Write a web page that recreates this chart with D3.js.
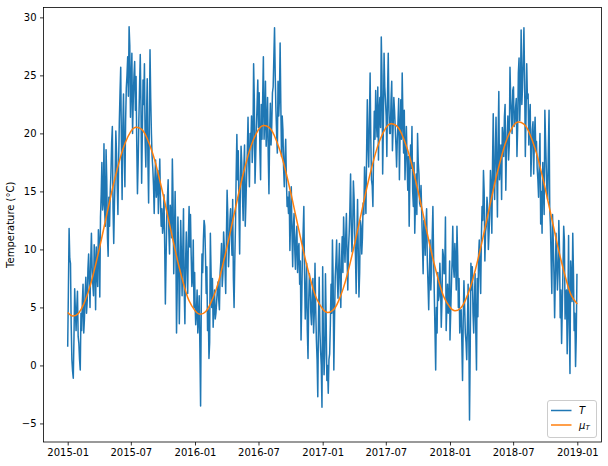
<!DOCTYPE html>
<html>
<head>
<meta charset="utf-8">
<script src="https://cdn.jsdelivr.net/npm/d3@7"></script>
<style>
  html, body { margin: 0; padding: 0; background: #fff; }
  svg { display: block; font-family: "DejaVu Sans", sans-serif; }
</style>
</head>
<body>
<svg id="chart" width="608" height="466"></svg>
<script>
// ---- Data ----
const years = [2015, 2016, 2017, 2018];
const stepDays = 4; // each array samples every 4 days of its year

// Observed T on days 0,4,8,... of each year
const t2015 = [1.6, 11.8, 8.8, 0.5, -1.1, 6.6, 3.0, 6.4,
  1.9, -0.4, 3.0, 7.0, 4.0, 7.6, 5.6,
  9.6, 5.0, 11.4, 7.0, 10.4, 4.8, 8.0, 11.7,
  5.9, 14.7, 13.4, 19.1, 12.0, 16.0, 9.4,
  12.0, 16.6, 20.6, 10.5, 16.3, 18.3, 13.0, 21.0,
  25.7, 14.3, 23.4, 15.4, 23.9, 26.6, 29.2, 21.4,
  26.9, 22.9, 26.2, 24.9, 14.8, 21.1, 26.8,
  15.7, 24.6, 26.0, 17.1, 24.7, 14.0, 27.2, 20.0,
  17.0, 13.1, 17.7, 15.0, 13.1, 17.8, 12.0,
  11.4, 14.7, 5.3, 12.8, 16.0, 9.6, 13.0, 17.8,
  7.9, 15.0, 2.8, 12.8, 3.6, 12.5, 6.0, 13.5,
  3.6, 11.5, 6.2, 13.7, 13.0, 6.8, 10.8, 8.0];
const t2016 = [5.6, 4.5, 2.8, 6.0, -3.5, 9.6, 10.8, 12.0,
  6.2, 3.0, 0.6, 11.4, 5.0, 3.3, 6.5,
  4.5, 6.5, 5.6, 8.0, 10.5, 7.9, 10.2, 6.2,
  15.1, 8.5, 12.5, 11.4, 14.3, 5.0, 12.0,
  19.9, 18.5, 9.6, 18.9, 14.8, 17.0, 12.0, 16.5,
  21.4, 15.4, 19.0, 17.5, 26.0, 15.7, 20.6, 24.6,
  23.5, 16.0, 19.5, 26.6, 21.0, 18.9, 23.1,
  14.8, 22.6, 20.6, 24.0, 29.1, 22.0, 18.3, 21.5,
  27.8, 18.0, 20.3, 15.4, 19.5, 13.7, 13.1,
  9.9, 15.4, 8.5, 13.1, 8.3, 12.0, 10.0, 7.0,
  2.2, 9.6, 13.7, 4.0, 8.8, 0.6, 7.9, 4.5,
  6.0, 2.8, 8.8, 2.2, -2.7, 7.6, 1.3, -3.6];
const t2017 = [8.5, -0.8, 7.9, -1.3, -2.4, 1.0, 7.0, 10.8,
  -0.4, 7.6, 10.8, 5.8, 10.5, 5.0, 11.1,
  12.8, 8.9, 13.1, 6.5, 11.4, 16.5, 9.8, 15.9,
  11.4, 6.2, 14.3, 5.9, 12.5, 9.6, 14.0,
  17.1, 13.1, 22.9, 17.1, 25.2, 16.0, 13.7, 21.9,
  23.7, 19.7, 17.7, 23.1, 28.3, 16.5, 26.9, 22.9,
  18.0, 26.9, 20.0, 22.9, 18.5, 23.1, 20.5,
  17.1, 21.0, 16.0, 22.9, 25.2, 18.3, 16.0, 20.6,
  15.1, 12.0, 19.0, 20.6, 13.7, 11.4, 16.5,
  20.0, 16.5, 13.7, 13.1, 7.9, 11.4, 12.0, 9.0,
  4.8, 10.8, 8.0, 13.7, 6.2, -0.4, 2.8, 5.6,
  8.8, 3.3, 10.0, 7.9, 12.8, 5.0, 4.5, 9.0];
const t2018 = [2.2, 6.8, 12.0, 7.6, 9.0, 12.0, 5.0, 2.8,
  4.8, -1.3, 7.3, 2.8, 0.5, 7.0, -4.7,
  8.8, 8.5, 2.8, 7.9, -0.4, 4.2, 10.8, 6.2,
  13.7, 16.8, 9.0, 12.0, 13.7, 11.4, 16.8,
  11.4, 21.7, 14.3, 21.4, 12.8, 23.6, 17.5, 14.3,
  19.5, 21.4, 15.1, 20.0, 17.7, 25.7, 21.7, 23.7,
  20.6, 22.2, 18.0, 25.2, 21.1, 28.9, 24.0,
  29.1, 18.0, 26.0, 23.4, 21.4, 16.3, 20.3, 16.5,
  21.4, 19.3, 16.0, 17.7, 12.2, 11.4, 15.4,
  22.0, 17.1, 14.3, 22.0, 12.0, 6.2, 10.8, 4.1,
  11.4, 6.5, 12.5, 4.1, 1.9, 8.5, 10.8, 6.2,
  1.0, 11.2, -0.7, 7.3, 11.4, 3.0, -0.1, 7.9];

// Observed T on days 2,6,10,... of each year
const u2015 = [6.5, 9.2, 3.5, -0.5, 2.4, 4.8, 5.0, 2.5,
  0.5, 4.5, 5.5, 2.8, 6.2, 4.5, 8.3,
  7.2, 9.0, 8.5, 6.0, 8.8, 10.2, 6.8,
  10.5, 12.8, 17.5, 14.0, 13.2, 18.6, 11.0, 14.5,
  15.0, 19.2, 13.5, 14.0, 20.2, 15.5, 17.4, 23.5,
  19.0, 20.5, 18.8, 21.0, 25.0, 23.2, 27.6,
  24.5, 20.0, 25.0, 22.0, 19.0, 17.5, 24.0, 22.5,
  20.0, 22.5, 19.4, 21.5, 17.5, 20.8, 23.0, 18.0,
  15.5, 16.2, 14.5, 16.8, 15.8, 14.2, 13.5,
  12.2, 10.5, 9.0, 14.5, 11.5, 13.8, 11.0, 14.5,
  11.0, 10.5, 6.5, 9.8, 7.5, 9.5, 10.0,
  6.5, 9.0, 8.5, 11.0, 10.2, 9.5, 7.5, 5.0];
const u2016 = [3.5, 6.5, 4.0, 1.5, 5.5, 8.0, 12.5, 9.5,
  8.5, 4.8, 2.0, 8.0, 7.5, 5.0, 4.0,
  5.5, 7.2, 4.8, 9.0, 6.8, 11.5, 8.5,
  11.0, 13.0, 10.0, 13.5, 9.5, 7.5, 9.0, 16.5,
  16.0, 13.5, 15.5, 17.5, 12.5, 19.0, 14.0, 18.5,
  17.5, 20.0, 21.5, 19.0, 23.0, 18.0, 22.5,
  20.5, 18.5, 22.5, 23.0, 19.5, 24.5, 20.5, 18.0,
  20.0, 19.0, 23.5, 26.5, 25.0, 20.0, 24.5, 23.0,
  22.5, 21.5, 17.0, 18.0, 16.0, 14.5, 15.0,
  12.5, 11.5, 12.0, 10.0, 11.0, 8.0, 10.5, 9.0,
  5.5, 11.5, 8.0, 6.0, 3.0, 5.5, 7.0,
  3.5, 7.5, 4.5, 5.0, 0.5, 4.0, 3.0, 0.0];
const u2017 = [2.5, 1.0, 4.0, 0.0, 0.5, 3.5, 4.5, 7.5,
  4.0, 9.0, 7.5, 8.5, 7.0, 9.0, 8.0,
  10.5, 11.0, 9.5, 10.0, 13.5, 12.0, 11.5,
  14.5, 9.5, 11.0, 10.0, 8.0, 12.0, 11.0, 13.0,
  15.0, 18.5, 19.0, 21.0, 19.5, 15.5, 18.5, 19.5,
  21.0, 24.0, 22.0, 20.5, 25.0, 20.5, 24.0,
  21.5, 23.5, 22.0, 20.0, 24.5, 20.5, 22.0, 19.0,
  19.5, 23.0, 20.0, 19.5, 21.5, 22.0, 18.5, 17.5,
  18.0, 16.0, 17.0, 15.0, 17.5, 14.0, 13.0,
  17.5, 14.0, 15.5, 10.5, 12.5, 9.5, 13.5, 7.0,
  8.0, 6.5, 11.0, 9.5, 3.0, 5.0, 8.0,
  6.0, 7.0, 5.5, 9.5, 8.0, 3.0, 7.0, 5.5];
const u2018 = [4.5, 9.0, 8.5, 10.5, 6.5, 9.5, 7.5, 4.5,
  2.0, 4.0, 5.0, 2.0, 3.5, 2.5, 1.5,
  6.5, 4.5, 5.5, 3.0, 7.5, 9.5, 8.0,
  11.0, 12.5, 15.0, 11.5, 14.5, 10.0, 13.0, 15.5,
  17.5, 15.5, 18.5, 17.0, 19.5, 16.0, 19.0, 20.5,
  18.0, 22.5, 18.5, 21.5, 19.0, 23.0, 20.0,
  24.0, 21.0, 23.0, 20.5, 26.5, 23.5, 22.5, 26.5,
  24.5, 21.5, 23.0, 19.0, 22.5, 18.5, 21.0, 19.5,
  18.5, 17.0, 14.5, 20.0, 15.0, 17.5, 13.0,
  19.5, 15.0, 18.5, 13.5, 9.0, 13.0, 8.0, 7.5,
  9.0, 8.0, 10.0, 6.5, 5.0, 12.0, 4.0,
  6.5, 5.0, 3.5, 9.0, 5.5, 8.0, 4.5, 2.5];

const tByYear = [t2015, t2016, t2017, t2018];
const uByYear = [u2015, u2016, u2017, u2018];

// Fitted mean mu_T, read on the 1st and 15th of each month
const muDays = [1, 15];
const mu2015 = [4.57, 4.26, 4.50, 5.22, 6.34, 7.82, 9.96, 11.89, 14.11, 15.96, 17.93, 19.20,
  20.17, 20.53, 20.35, 19.69, 18.33, 16.82, 14.80, 12.87, 10.50, 8.66, 6.83, 5.57];
const mu2016 = [4.72, 4.41, 4.65, 5.37, 6.49, 7.97, 10.11, 12.04, 14.26, 16.11, 18.08, 19.35,
  20.32, 20.68, 20.50, 19.84, 18.48, 16.97, 14.95, 13.02, 10.65, 8.81, 6.98, 5.72];
const mu2017 = [4.87, 4.56, 4.80, 5.52, 6.64, 8.12, 10.26, 12.19, 14.41, 16.26, 18.23, 19.50,
  20.47, 20.83, 20.65, 19.99, 18.63, 17.12, 15.10, 13.17, 10.80, 8.96, 7.13, 5.87];
const mu2018 = [5.02, 4.71, 4.95, 5.67, 6.79, 8.27, 10.41, 12.34, 14.56, 16.41, 18.38, 19.65,
  20.62, 20.98, 20.80, 20.14, 18.78, 17.27, 15.25, 13.32, 10.95, 9.11, 7.28, 6.02];
const muEnd = 5.3; // 2019-01-01
const muByYear = [mu2015, mu2016, mu2017, mu2018];

const xTickLabels = ["2015-01", "2015-07", "2016-01", "2016-07", "2017-01", "2017-07", "2018-01", "2018-07", "2019-01"];
const yTicks = [-5, 0, 5, 10, 15, 20, 25, 30];
const seriesNames = ["T", "mu_T"];

// ---- Build point lists ----
const DAY = 86400000;
const tPoints = [];
years.forEach((yr, k) => {
  const base = Date.UTC(yr, 0, 1);
  tByYear[k].forEach((v, j) => tPoints.push({ date: new Date(base + j * stepDays * DAY), value: v }));
  uByYear[k].forEach((v, j) => tPoints.push({ date: new Date(base + (j * stepDays + 2) * DAY), value: v }));
});
tPoints.sort((a, b) => a.date - b.date);
const muPoints = [];
years.forEach((yr, k) => {
  muByYear[k].forEach((v, idx) => {
    const m = Math.floor(idx / 2), d = muDays[idx % 2];
    muPoints.push({ date: new Date(Date.UTC(yr, m, d)), value: v });
  });
});
muPoints.push({ date: new Date(Date.UTC(2019, 0, 1)), value: muEnd });

// ---- Layout ----
const svg = d3.select("#chart");
const L = 43.5, R = 601.5, T = 7.5, B = 442;

const x = d3.scaleUtc()
  .domain([new Date(Date.UTC(2015, 0, 1)), new Date(Date.UTC(2019, 0, 1))])
  .range([67.7, 577.3]);
const y = d3.scaleLinear().domain([-6.6, 30.85]).range([B, T]);

const tickDates = xTickLabels.map(s => { const [a, b] = s.split("-").map(Number); return new Date(Date.UTC(a, b - 1, 1)); });

// Lines
const line = d3.line().x(d => x(d.date)).y(d => y(d.value));
svg.append("path").datum(tPoints)
  .attr("d", line).attr("fill", "none")
  .attr("stroke", "#1f77b4").attr("stroke-width", 1.5).attr("stroke-linejoin", "round");
svg.append("path").datum(muPoints)
  .attr("d", line.curve(d3.curveNatural)).attr("fill", "none")
  .attr("stroke", "#ff7f0e").attr("stroke-width", 1.5);

// Axes
const xAxis = d3.axisBottom(x).tickValues(tickDates).tickFormat(d3.utcFormat("%Y-%m")).tickSize(3.5).tickSizeOuter(0).tickPadding(3.5);
const gx = svg.append("g").attr("transform", `translate(0,${B})`).call(xAxis);
const yAxis = d3.axisLeft(y).tickValues(yTicks).tickFormat(d => d < 0 ? "\u2212" + Math.abs(d) : d).tickSize(3.5).tickSizeOuter(0).tickPadding(3.5);
const gy = svg.append("g").attr("transform", `translate(${L},0)`).call(yAxis);
[gx, gy].forEach(g => {
  g.select(".domain").remove();
  g.selectAll(".tick line").attr("stroke", "#000").attr("stroke-width", 0.8);
  g.selectAll(".tick text").attr("fill", "#000").attr("font-size", 10).attr("font-family", "DejaVu Sans, sans-serif");
});

// Frame
svg.append("rect").attr("x", L).attr("y", T).attr("width", R - L).attr("height", B - T)
  .attr("fill", "none").attr("stroke", "#000").attr("stroke-width", 0.8);

// Y label
svg.append("text").attr("transform", `translate(14,${(T + B) / 2}) rotate(-90)`)
  .attr("text-anchor", "middle").attr("font-size", 10).attr("fill", "#000")
  .text("Temperature (°C)");

// Legend
const lg = svg.append("g");
lg.append("rect").attr("x", 547.5).attr("y", 400.5).attr("width", 49).attr("height", 37).attr("rx", 2.5)
  .attr("fill", "#fff").attr("fill-opacity", 0.8).attr("stroke", "#cccccc").attr("stroke-width", 1);
const colors = ["#1f77b4", "#ff7f0e"];
const rowsY = [410.5, 425];
seriesNames.forEach((nm, i) => {
  lg.append("line").attr("x1", 551).attr("x2", 571.5).attr("y1", rowsY[i]).attr("y2", rowsY[i])
    .attr("stroke", colors[i]).attr("stroke-width", 1.5);
  const t = lg.append("text").attr("x", 579).attr("y", rowsY[i] + 3.6).attr("font-size", 10)
    .attr("font-style", "italic").attr("fill", "#000");
  if (nm === "T") t.text("T");
  else {
    t.append("tspan").text("\u03bc");
    t.append("tspan").attr("font-size", 7).attr("dy", 1.8).text("T");
  }
});
</script>
</body>
</html>
